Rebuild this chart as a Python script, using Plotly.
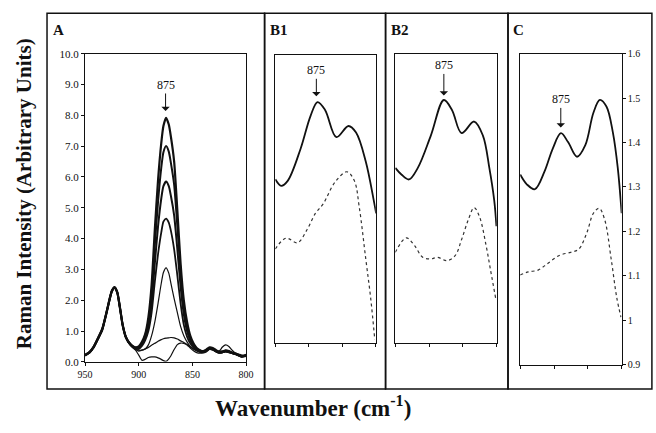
import plotly.graph_objects as go

W, H = 656, 433

# ---------------- Panel A data ----------------
wn_a = [950, 946, 942, 938, 934, 930, 927, 925, 922.5, 920, 917.5, 915, 912, 909, 906, 903,
        900, 897, 894, 891, 888, 885, 882, 879, 877, 874.5, 872, 870, 867, 864, 861, 858, 855,
        852, 849, 846, 843, 840, 837, 834, 831, 828, 825, 822, 819, 816, 813, 810, 807, 804, 800]

a_curve1 = [0.22, 0.3, 0.48, 0.75, 1.05, 1.6, 2.05, 2.3, 2.42, 2.25, 1.75, 1.2, 0.8, 0.62, 0.52, 0.47,
            0.5, 0.65, 0.9, 1.45, 2.5, 4.3, 5.9, 7.1, 7.65, 7.92, 7.7, 7.3, 6.5, 4.9, 3.2, 2.0, 1.3,
            0.85, 0.6, 0.45, 0.38, 0.35, 0.4, 0.47, 0.45, 0.38, 0.33, 0.34, 0.37, 0.35, 0.3, 0.27, 0.24, 0.2, 0.22]
a_curve2 = [0.2, 0.32, 0.5, 0.78, 1.08, 1.62, 2.08, 2.32, 2.43, 2.27, 1.78, 1.22, 0.82, 0.63, 0.52, 0.46,
            0.46, 0.6, 0.85, 1.3, 2.2, 3.8, 5.2, 6.3, 6.8, 7.0, 6.82, 6.45, 5.75, 4.4, 2.9, 1.8, 1.15,
            0.78, 0.55, 0.43, 0.37, 0.34, 0.38, 0.45, 0.43, 0.36, 0.32, 0.33, 0.35, 0.33, 0.29, 0.26, 0.22, 0.18, 0.2]
a_curve3 = [0.24, 0.31, 0.47, 0.74, 1.03, 1.58, 2.03, 2.28, 2.4, 2.24, 1.74, 1.18, 0.79, 0.61, 0.5, 0.45,
            0.45, 0.58, 0.8, 1.15, 1.9, 3.2, 4.4, 5.3, 5.7, 5.85, 5.7, 5.38, 4.75, 3.65, 2.45, 1.55, 1.0,
            0.7, 0.5, 0.4, 0.35, 0.33, 0.37, 0.44, 0.42, 0.35, 0.31, 0.32, 0.36, 0.34, 0.3, 0.27, 0.23, 0.19, 0.21]
a_curve4 = [0.21, 0.29, 0.49, 0.76, 1.06, 1.61, 2.06, 2.31, 2.41, 2.26, 1.76, 1.21, 0.81, 0.62, 0.51, 0.44,
            0.42, 0.52, 0.7, 1.0, 1.6, 2.6, 3.5, 4.2, 4.55, 4.65, 4.52, 4.25, 3.65, 2.8, 1.9, 1.2, 0.82,
            0.6, 0.46, 0.38, 0.33, 0.32, 0.36, 0.42, 0.4, 0.34, 0.3, 0.31, 0.34, 0.32, 0.28, 0.25, 0.21, 0.17, 0.19]
a_curve5 = [0.23, 0.3, 0.48, 0.75, 1.04, 1.59, 2.04, 2.29, 2.41, 2.25, 1.75, 1.19, 0.8, 0.6, 0.49, 0.42,
            0.38, 0.38, 0.42, 0.55, 0.85, 1.3, 1.9, 2.55, 2.9, 3.05, 2.88, 2.55, 2.05, 1.6, 1.15, 0.85, 0.65,
            0.5, 0.42, 0.36, 0.32, 0.31, 0.35, 0.43, 0.41, 0.34, 0.29, 0.3, 0.33, 0.31, 0.27, 0.24, 0.2, 0.16, 0.2]
a_curve6 = [0.22, 0.3, 0.48, 0.75, 1.05, 1.6, 2.05, 2.3, 2.42, 2.25, 1.75, 1.2, 0.8, 0.6, 0.48, 0.4,
            0.35, 0.38, 0.42, 0.47, 0.54, 0.6, 0.67, 0.72, 0.75, 0.77, 0.78, 0.79, 0.78, 0.74, 0.68, 0.63, 0.56,
            0.48, 0.42, 0.36, 0.31, 0.29, 0.32, 0.4, 0.38, 0.32, 0.28, 0.3, 0.32, 0.3, 0.27, 0.24, 0.2, 0.17, 0.2]
a_curve7 = [0.22, 0.3, 0.48, 0.75, 1.05, 1.6, 2.05, 2.3, 2.42, 2.25, 1.75, 1.2, 0.8, 0.6, 0.47, 0.38,
            0.22, 0.05, 0.08, 0.14, 0.16, 0.16, 0.13, 0.08, 0.04, 0.02, 0.1, 0.2, 0.4, 0.56, 0.61, 0.6, 0.55,
            0.45, 0.36, 0.3, 0.28, 0.3, 0.35, 0.42, 0.4, 0.33, 0.35, 0.48, 0.55, 0.5, 0.38, 0.28, 0.2, 0.15, 0.25]
a_curves = [a_curve1, a_curve2, a_curve3, a_curve4, a_curve5, a_curve6, a_curve7]
a_widths = [2.2, 2.0, 2.0, 1.8, 1.2, 1.2, 1.2]

a_yticks = [0, 1, 2, 3, 4, 5, 6, 7, 8, 9, 10]
a_xticks = [950, 900, 850, 800]

# ---------------- Panel B1 data ----------------
b1_solid_wn = [900, 896.5, 892.6, 884.9, 879, 874.8, 870.3, 863.5, 856.3, 851.8, 846, 841.2, 839.8]
b1_solid = [1.298, 1.282, 1.294, 1.372, 1.451, 1.485, 1.466, 1.400, 1.427, 1.411, 1.341, 1.246, 1.215]
b1_dot_wn = [900, 893.6, 886.8, 881, 876.1, 871.3, 864.5, 857.3, 852.8, 849.9, 846, 843.1, 840.6]
b1_dot = [1.129, 1.155, 1.144, 1.176, 1.215, 1.239, 1.290, 1.316, 1.294, 1.231, 1.105, 1.011, 0.909]

# ---------------- Panel B2 data ----------------
b2_solid_wn = [900, 896.4, 891.9, 886.7, 879, 871.3, 866.5, 860.8, 853.4, 848.2, 844.4, 841.5, 840.2]
b2_solid = [1.324, 1.308, 1.296, 1.324, 1.402, 1.488, 1.464, 1.408, 1.436, 1.402, 1.324, 1.245, 1.183]
b2_dot_wn = [900, 893.5, 888.6, 883.8, 879, 875.2, 869.4, 864.6, 860.8, 856.9, 853.4, 850.2, 846.3, 843.5, 840.7]
b2_dot = [1.120, 1.155, 1.136, 1.108, 1.104, 1.108, 1.100, 1.112, 1.151, 1.198, 1.228, 1.206, 1.136, 1.073, 1.010]

# ---------------- Panel C data ----------------
c_solid_wn = [900, 896.1, 891.3, 885.6, 880.8, 875.9, 871.7, 866.4, 861.5, 856.7, 852.9, 849, 845.2, 842.3, 840]
c_solid = [1.328, 1.306, 1.295, 1.335, 1.386, 1.421, 1.401, 1.368, 1.394, 1.467, 1.496, 1.481, 1.423, 1.343, 1.241]
c_dot_wn = [900, 895.2, 889.4, 883.7, 876.9, 870.2, 865.4, 860.6, 856.7, 853.3, 850, 846.2, 842.9, 840.4]
c_dot = [1.102, 1.109, 1.113, 1.128, 1.146, 1.153, 1.160, 1.197, 1.241, 1.252, 1.226, 1.138, 1.051, 1.007]

c_yticks = [0.9, 1.0, 1.1, 1.2, 1.3, 1.4, 1.5, 1.6]
bc_xticks = [900, 880, 860, 840]

peak_label = "875"

FONT = "Liberation Serif"
INK = "#111111"

fig = go.Figure()

for vals, w in zip(a_curves, a_widths):
    fig.add_trace(go.Scatter(x=wn_a, y=vals, mode="lines", xaxis="x", yaxis="y",
                             line=dict(color=INK, width=w, shape="spline", smoothing=0.6),
                             showlegend=False, hoverinfo="skip"))

for (sx, sy, dx, dy, xa, ya) in [
    (b1_solid_wn, b1_solid, b1_dot_wn, b1_dot, "x2", "y2"),
    (b2_solid_wn, b2_solid, b2_dot_wn, b2_dot, "x3", "y3"),
    (c_solid_wn, c_solid, c_dot_wn, c_dot, "x4", "y4"),
]:
    fig.add_trace(go.Scatter(x=sx, y=sy, mode="lines", xaxis=xa, yaxis=ya,
                             line=dict(color=INK, width=1.8, shape="spline", smoothing=1.0),
                             showlegend=False, hoverinfo="skip"))
    fig.add_trace(go.Scatter(x=dx, y=dy, mode="lines", xaxis=xa, yaxis=ya,
                             line=dict(color="#333333", width=1.2, dash="dot", shape="spline", smoothing=1.0),
                             showlegend=False, hoverinfo="skip"))

def px_x(p):
    return p / W

def px_y(p):
    return 1 - p / H

axis_common = dict(showline=True, linecolor=INK, linewidth=1, mirror=True, showgrid=False,
                   zeroline=False, ticks="outside", ticklen=3, tickcolor=INK)
f11 = dict(tickfont=dict(family=FONT, size=11, color=INK))
f10 = dict(tickfont=dict(family=FONT, size=10, color=INK))

fig.update_layout(
    width=W, height=H, autosize=False,
    margin=dict(l=0, r=0, t=0, b=0),
    paper_bgcolor="white", plot_bgcolor="white",
    xaxis=dict(domain=[px_x(79), px_x(244)], range=[950, 800], tickvals=a_xticks,
               anchor="y", **axis_common, **f10),
    yaxis=dict(domain=[px_y(366), px_y(49)], range=[0, 10], tickvals=a_yticks, tickformat=".1f",
               anchor="x", **axis_common, **f11),
    xaxis2=dict(domain=[px_x(274), px_x(377)], range=[900, 840], tickvals=bc_xticks,
                showticklabels=False, anchor="y2", **axis_common),
    yaxis2=dict(domain=[px_y(347), px_y(50)], range=[0.9, 1.6], showticklabels=False,
                anchor="x2", **{**axis_common, "ticks": ""}),
    xaxis3=dict(domain=[px_x(397), px_x(501)], range=[900, 840], tickvals=bc_xticks,
                showticklabels=False, anchor="y3", **axis_common),
    yaxis3=dict(domain=[px_y(347), px_y(49)], range=[0.9, 1.6], showticklabels=False,
                anchor="x3", **{**axis_common, "ticks": ""}),
    xaxis4=dict(domain=[px_x(525), px_x(629)], range=[900, 840], tickvals=bc_xticks,
                showticklabels=False, anchor="y4", **axis_common),
    yaxis4=dict(domain=[px_y(369), px_y(49)], range=[0.9, 1.6], tickvals=c_yticks,
                side="right", anchor="x4", **axis_common, **f10),
)

# outer panel boxes
boxes = [(40, 263), (263, 387), (387, 512.5), (512.5, 660)]
for (x0, x1) in boxes:
    fig.add_shape(type="rect", xref="paper", yref="paper",
                  x0=px_x(x0), x1=px_x(x1), y0=px_y(394), y1=px_y(7.5),
                  line=dict(color=INK, width=1.5), fillcolor="rgba(0,0,0,0)", layer="below")

# panel labels
for txt, xl in [("A", 44), ("B1", 267), ("B2", 391), ("C", 516)]:
    fig.add_annotation(text="<b>%s</b>" % txt, xref="paper", yref="paper",
                       x=px_x(xl), y=px_y(25), xanchor="left", yanchor="middle",
                       showarrow=False, font=dict(family=FONT, size=15, color=INK))

# peak arrows
for xa, ya, xv, yv, ay in [("x", "y", 875, 8.14, -26), ("x2", "y2", 875.5, 1.499, -26),
                           ("x3", "y3", 871.3, 1.499, -30), ("x4", "y4", 876, 1.434, -28)]:
    fig.add_annotation(text=peak_label, xref=xa, yref=ya, x=xv, y=yv, ax=0, ay=ay,
                       showarrow=True, arrowhead=1, arrowsize=1.4, arrowwidth=1, arrowcolor=INK,
                       font=dict(family=FONT, size=12, color=INK))

# axis titles
fig.add_annotation(text="<b>Wavenumber (cm<sup>-1</sup>)</b>", xref="paper", yref="paper",
                   x=px_x(313), y=px_y(412), xanchor="center", yanchor="middle", showarrow=False,
                   font=dict(family=FONT, size=23, color=INK))
fig.add_annotation(text="<b>Raman Intensity (Arbitrary Units)</b>", xref="paper", yref="paper",
                   x=px_x(16), y=px_y(193), xanchor="center", yanchor="middle", showarrow=False,
                   textangle=-90, font=dict(family=FONT, size=21, color=INK))

fig.write_html("out.html")
